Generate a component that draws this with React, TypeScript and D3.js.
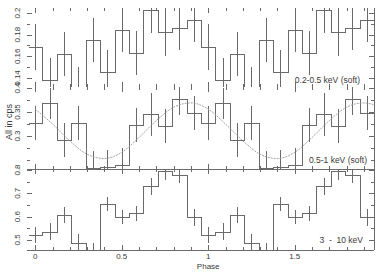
import React from 'react'
import * as d3 from 'd3'

// folded light curve, 12 phase bins, plotted over two cycles
const binPhase = [0, 0.0833, 0.1667, 0.25, 0.3333, 0.4167, 0.5, 0.5833, 0.6667, 0.75, 0.8333, 0.9167]
const binHalf = 0.04167
const cycles = [0, 1]

const softLow = [0.1686, 0.1381, 0.1621, 0.1298, 0.1751, 0.1455, 0.1843, 0.1631, 0.2028, 0.1825, 0.1861, 0.1935]
const softLowErr = [0.021, 0.02, 0.02, 0.02, 0.02, 0.02, 0.02, 0.02, 0.021, 0.022, 0.02, 0.02]

const softHigh = [0.327, 0.368, 0.292, 0.327, 0.233, 0.235, 0.24, 0.323, 0.345, 0.321, 0.378, 0.348]
const softHighErr = [0.035, 0.033, 0.035, 0.035, 0.035, 0.035, 0.035, 0.035, 0.044, 0.035, 0.035, 0.035]

const hard = [0.5215, 0.5356, 0.6069, 0.4871, 0.4567, 0.6524, 0.5966, 0.6137, 0.7296, 0.7957, 0.7785, 0.5966]
const hardErr = [0.034, 0.036, 0.036, 0.038, 0.03, 0.03, 0.03, 0.032, 0.036, 0.038, 0.036, 0.036]

// sinusoid model drawn on the 0.5-1 keV panel
const modelPhase = [0, 0.1, 0.2, 0.3, 0.4, 0.5, 0.6, 0.7, 0.8, 0.9, 1.0, 1.1, 1.2, 1.3, 1.4, 1.5, 1.6, 1.7, 1.8, 1.9, 1.96]
const modelRate = [0.356, 0.325, 0.29, 0.262, 0.253, 0.266, 0.297, 0.332, 0.36, 0.369, 0.356, 0.325, 0.29, 0.262, 0.253, 0.266, 0.297, 0.332, 0.36, 0.369, 0.365]

const xTicksMajor = [0, 0.5, 1, 1.5]
const xTickLabels = ['0', '0.5', '1', '1.5']

const panelNames = ['0.2-0.5 keV (soft)', '0.5-1 keV (soft)', '3  -  10 keV']
const topTicks = ['0.14', '0.16', '0.18', '0.2']
const midTicks = ['0.3', '0.35', '0.4']
const botTicks = ['0.5', '0.6', '0.7', '0.8']

const W = 383
const H = 274
const left = 27
const right = 374
const font = '"Liberation Sans", Arial, sans-serif'
const ink = '#6a6a6a'
const textInk = '#3a3a3a'
const labelRight = [360, 367, 363]
const labelBase = [83, 163, 243]

const px = (v: number) => Math.round(v) + 0.5

export default function App() {
  const x = d3.scaleLinear().domain([-binHalf, 2 - binHalf]).range([left + 1, right])

  const panels = [
    { vals: softLow, errs: softLowErr, y: d3.scaleLinear().domain([0.1317, 0.2046]).range([87, 8]), major: topTicks, minorStep: 0.01, name: panelNames[0] },
    { vals: softHigh, errs: softHighErr, y: d3.scaleLinear().domain([0.2313, 0.4021]).range([169, 87]), major: midTicks, minorStep: 0.025, name: panelNames[1] },
    { vals: hard, errs: hardErr, y: d3.scaleLinear().domain([0.4567, 0.8043]).range([250, 169]), major: botTicks, minorStep: 0.05, name: panelNames[2] },
  ]

  const xMinor = d3.range(0, 20).map(i => i / 10)

  return (
    <svg width={W} height={H} style={{ position: 'absolute', left: 0, top: 0, background: '#fff' }} fontFamily={font}>
      <defs>
        {panels.map((p, i) => (
          <clipPath id={`clip${i}`} key={i}>
            <rect x={left} y={p.y.range()[1]} width={right - left} height={p.y.range()[0] - p.y.range()[1]} />
          </clipPath>
        ))}
      </defs>

      {panels.map((p, pi) => {
        const [yb, yt] = p.y.range()
        const [d0, d1] = p.y.domain()
        const pts: [number, number][] = []
        cycles.forEach(c => binPhase.forEach((ph, i) => pts.push([c + ph - binHalf, p.vals[i]])))
        pts.push([2 - binHalf, p.vals[p.vals.length - 1]])
        const step = d3.line<[number, number]>().x(d => px(x(d[0]))).y(d => px(p.y(d[1]))).curve(d3.curveStepAfter)
        const minor = d3.range(Math.ceil(d0 / p.minorStep) * p.minorStep, d1, p.minorStep)
        return (
          <g key={pi}>
            <g clipPath={`url(#clip${pi})`} stroke={ink} strokeWidth={1} fill="none" shapeRendering="crispEdges">
              <path d={step(pts) || ''} />
              {cycles.map(c => binPhase.map((ph, i) => (
                <line key={`${c}-${i}`} x1={px(x(c + ph))} x2={px(x(c + ph))} y1={p.y(p.vals[i] - p.errs[i])} y2={p.y(p.vals[i] + p.errs[i])} />
              )))}
            </g>
            {pi === 1 && (
              <path clipPath={`url(#clip${pi})`} fill="none"
                d={d3.line<number>().x((_, i) => x(modelPhase[i])).y(d => p.y(d)).curve(d3.curveMonotoneX)(modelRate) || ''}
                stroke="#9a9a9a" strokeWidth={0.9} strokeDasharray="2 1" />
            )}
            {/* x ticks on top and bottom edges */}
            <g stroke={ink} shapeRendering="crispEdges">
              {xMinor.map(v => {
                const len = xTicksMajor.includes(v) ? 5 : 3
                return (
                  <g key={v}>
                    <line x1={px(x(v))} x2={px(x(v))} y1={yt} y2={yt + len} />
                    <line x1={px(x(v))} x2={px(x(v))} y1={yb} y2={yb - len} />
                  </g>
                )
              })}
              {minor.map(v => {
                const isMajor = p.major.some(t => Math.abs(+t - v) < 1e-6)
                const len = isMajor ? 5 : 3
                return (
                  <g key={v}>
                    <line x1={left} x2={left + len} y1={px(p.y(v))} y2={px(p.y(v))} />
                    <line x1={right - len} x2={right} y1={px(p.y(v))} y2={px(p.y(v))} />
                  </g>
                )
              })}
            </g>
            {p.major.map(t => (
              <text key={t} transform={`translate(20,${p.y(+t)}) rotate(-90)`} textAnchor="middle" fontSize={8} fill={textInk}>{t}</text>
            ))}
            <text x={labelRight[pi]} y={labelBase[pi]} textAnchor="end" fontSize={8.5} fill={textInk} style={{ whiteSpace: 'pre' }}>{p.name}</text>
          </g>
        )
      })}

      {/* frame lines */}
      <g stroke={ink} strokeWidth={1} shapeRendering="crispEdges">
        <line x1={px(right)} x2={px(right)} y1={8} y2={250} />
        <line x1={left} x2={right} y1={px(169)} y2={px(169)} />
        <line x1={left} x2={right} y1={px(250)} y2={px(250)} />
      </g>

      {xTicksMajor.map((v, i) => (
        <text key={v} x={x(v)} y={259} textAnchor="middle" fontSize={8} fill={textInk}>{xTickLabels[i]}</text>
      ))}
      <text x={x(1)} y={269} textAnchor="middle" fontSize={8} fill={textInk}>Phase</text>
      <text transform="translate(12,122) rotate(-90)" textAnchor="middle" fontSize={9} fill={textInk}>All in cps</text>
    </svg>
  )
}
